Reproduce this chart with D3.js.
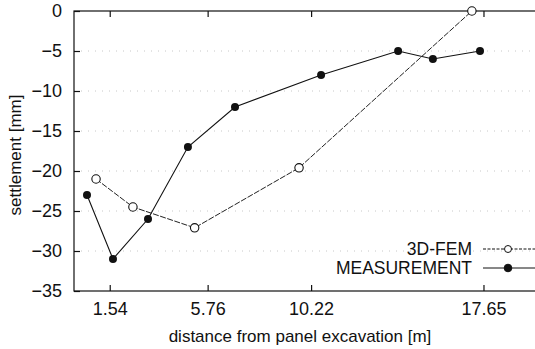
<!DOCTYPE html>
<html>
<head>
<meta charset="utf-8">
<script src="https://cdn.jsdelivr.net/npm/d3@7"></script>
<style>
  body { margin: 0; background: #fff; }
  svg { display: block; font-family: "Liberation Sans", Arial, sans-serif; }
</style>
</head>
<body>
<div id="chart"></div>
<script>
// values
var xTicks = [1.54, 5.76, 10.22, 17.65];
var yTicks = [0, -5, -10, -15, -20, -25, -30, -35];

var femX = [0.95, 2.54, 5.2, 9.7, 17.15];
var femY = [-21, -24.5, -27.1, -19.6, 0];

var measX = [0.56, 1.68, 3.19, 4.91, 6.94, 10.65, 13.97, 15.47, 17.5];
var measY = [-23, -31, -26, -17, -12, -8, -5, -6, -5];

var seriesNames = ["3D-FEM", "MEASUREMENT"];

(function() {
    'use strict';

    var width = 535, height = 349;
    var margin = {top: 11, right: -3, bottom: 58, left: 74};
    var w = width - margin.left - margin.right,
        h = height - margin.top - margin.bottom;

    var x = d3.scaleLinear().domain([0, 20]).range([0, w]),
        y = d3.scaleLinear().domain([-35, 0]).range([h, 0]);

    var svg = d3.select("#chart").append("svg")
        .attr("width", width)
        .attr("height", height);

    var g = svg.append("g")
        .attr("transform", "translate(" + margin.left + "," + margin.top + ")");

    // faint dotted grid
    g.selectAll(".grid")
        .data(yTicks.filter(function(d) { return d !== 0 && d !== -35; }))
        .enter().append("line")
        .attr("x1", 0).attr("x2", w)
        .attr("y1", function(d) { return y(d); })
        .attr("y2", function(d) { return y(d); })
        .style("stroke", "#c8c8c8")
        .style("stroke-width", 1)
        .style("stroke-dasharray", "1,6");

    // frame
    g.append("rect")
        .attr("width", w).attr("height", h)
        .style("fill", "none")
        .style("stroke", "#111")
        .style("stroke-width", 1.2);

    var xAxis = g.append("g")
        .attr("transform", "translate(0," + h + ")")
        .call(d3.axisBottom(x).tickValues(xTicks).tickSizeInner(-6).tickSizeOuter(0)
            .tickFormat(function(d) { return d.toFixed(2); }).tickPadding(11));
    var xAxisTop = g.append("g")
        .call(d3.axisTop(x).tickValues(xTicks).tickSizeInner(-6).tickSizeOuter(0)
            .tickFormat(""));
    var yAxis = g.append("g")
        .call(d3.axisLeft(y).tickValues(yTicks).tickSizeInner(-6).tickSizeOuter(0)
            .tickPadding(12));

    [xAxis, xAxisTop, yAxis].forEach(function(a) {
        a.select(".domain").remove();
        a.selectAll("line").style("stroke", "#111").style("stroke-width", 1.2);
        a.selectAll("text").style("font-size", "18px").style("fill", "#111")
            .style("font-family", "'Liberation Sans', Arial, sans-serif");
    });

    // axis titles
    svg.append("text")
        .attr("x", 300).attr("y", 342)
        .attr("text-anchor", "middle")
        .style("font-size", "17px").style("fill", "#111")
        .text("distance from panel excavation [m]");
    svg.append("text")
        .attr("transform", "translate(21,155) rotate(-90)")
        .attr("text-anchor", "middle")
        .style("font-size", "17px").style("fill", "#111")
        .text("settlement [mm]");

    var fem = femX.map(function(d, i) { return {x: d, y: femY[i]}; });
    var meas = measX.map(function(d, i) { return {x: d, y: measY[i]}; });

    var line = d3.line()
        .x(function(d) { return x(d.x); })
        .y(function(d) { return y(d.y); });

    g.append("path")
        .datum(meas)
        .attr("d", line)
        .style("fill", "none").style("stroke", "#111").style("stroke-width", 1.1);

    g.append("path")
        .datum(fem)
        .attr("d", line)
        .style("fill", "none").style("stroke", "#222").style("stroke-width", 1)
        .style("stroke-dasharray", "6,1.5");

    g.selectAll(".meas")
        .data(meas)
        .enter().append("circle")
        .attr("cx", function(d) { return x(d.x); })
        .attr("cy", function(d) { return y(d.y); })
        .attr("r", 4)
        .style("fill", "#111");

    g.selectAll(".fem")
        .data(fem)
        .enter().append("circle")
        .attr("cx", function(d) { return x(d.x); })
        .attr("cy", function(d) { return y(d.y); })
        .attr("r", 4.2)
        .style("fill", "#fff").style("stroke", "#111").style("stroke-width", 1.1);

    // legend
    var legend = svg.append("g");
    var rows = [
        {name: seriesNames[0], yy: 249, dash: "3,1.5", open: true},
        {name: seriesNames[1], yy: 268, dash: null, open: false}
    ];
    rows.forEach(function(r) {
        legend.append("text")
            .attr("x", 472).attr("y", r.yy + 6)
            .attr("text-anchor", "end")
            .style("font-size", "17.5px").style("fill", "#111")
            .text(r.name);
        legend.append("line")
            .attr("x1", 483).attr("x2", 535)
            .attr("y1", r.yy).attr("y2", r.yy)
            .style("stroke", "#111").style("stroke-width", 1)
            .style("stroke-dasharray", r.dash);
        legend.append("circle")
            .attr("cx", 508).attr("cy", r.yy)
            .attr("r", r.open ? 3.5 : 3.8)
            .style("fill", r.open ? "#fff" : "#111")
            .style("stroke", "#111").style("stroke-width", 1);
    });
})();
</script>
</body>
</html>
